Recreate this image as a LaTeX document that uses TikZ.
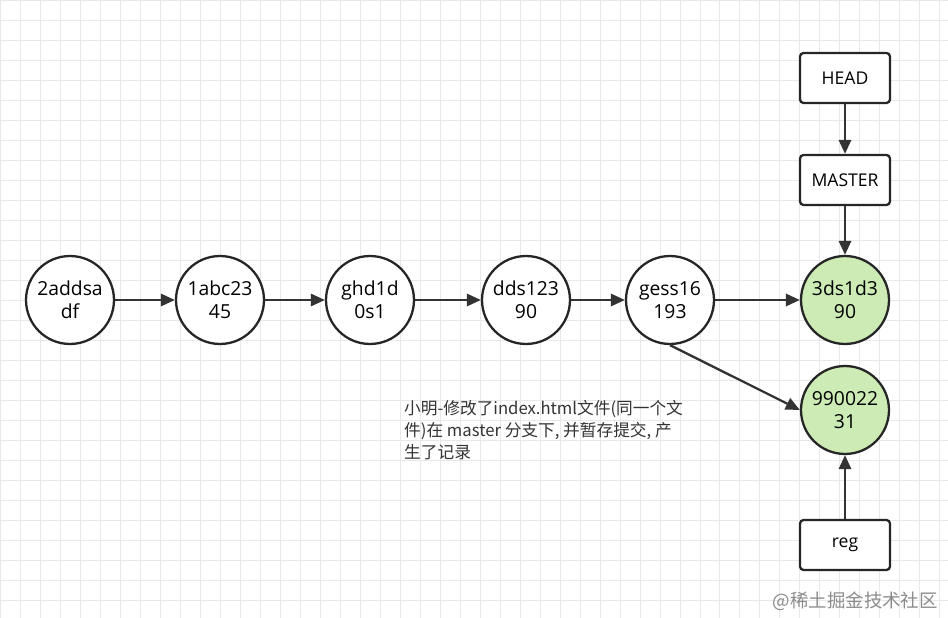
\documentclass[tikz,border=0pt]{standalone}
\usepackage{fontspec}
\setmainfont{Open Sans}
\newfontfamily\cjk{Noto Sans CJK SC}
\usetikzlibrary{positioning, arrows.meta}
\definecolor{gridc}{HTML}{E8E8E8}
\definecolor{commitgreen}{HTML}{CDEBB4}
\tikzset{
    commit/.style={circle, draw=black!85, line width=1.3pt, fill=white, minimum size=1.76cm, inner sep=0pt, align=center, font=\fontsize{11pt}{13pt}\selectfont},
    newcommit/.style={commit, fill=commitgreen},
    refbox/.style={rectangle, rounded corners=2pt, draw=black!85, line width=1.3pt, fill=white, minimum width=1.8cm, minimum height=1cm, font=\fontsize{10pt}{12pt}\selectfont},
    link/.style={-{Triangle[length=8pt,width=7pt]}, line width=1.3pt, draw=black!80}
}
\begin{document}
\begin{tikzpicture}[x=0.02cm, y=-0.02cm]
    \useasboundingbox (0,0) rectangle (948,618);
    \fill[white] (0,0) rectangle (948,618);
    \draw[gridc, line width=0.4pt, step=0.4cm] (0,0) grid (948,618);
    % commits
    \node[commit] (c1) at (70,300) {2addsa\\df};
    \node[commit] (c2) at (220,300) {1abc23\\45};
    \node[commit] (c3) at (370,300) {ghd1d\\0s1};
    \node[commit] (c4) at (526,300) {dds123\\90};
    \node[commit] (c5) at (670,300) {gess16\\193};
    \node[newcommit] (c6) at (845,300) {3ds1d3\\90};
    \node[newcommit] (c7) at (845,410) {990022\\31};
    % refs
    \node[refbox] (head) at (845,78) {HEAD};
    \node[refbox] (master) at (845,180) {MASTER};
    \node[refbox] (reg) at (845,545) {reg};
    \draw[link] (c1) -- (c2);
    \draw[link] (c2) -- (c3);
    \draw[link] (c3) -- (c4);
    \draw[link] (c4) -- (c5);
    \draw[link] (c5) -- (c6);
    \draw[link] (c5.south) -- (c7.west);
    \draw[link] (head) -- (master);
    \draw[link] (master) -- (c6);
    \draw[link] (reg) -- (c7);
    % note
    \node[anchor=north west, align=left, font=\cjk\fontsize{9.5pt}{12.5pt}\selectfont, text=black!80] (note) at (398,394)
        {小明-修改了index.html文件(同一个文\\件)在 master 分支下, 并暂存提交, 产\\生了记录};
    \node[anchor=east, font=\cjk\fontsize{10.5pt}{12pt}\selectfont, text=black!45] (mark) at (944,601) {@稀土掘金技术社区};
\end{tikzpicture}
\end{document}
